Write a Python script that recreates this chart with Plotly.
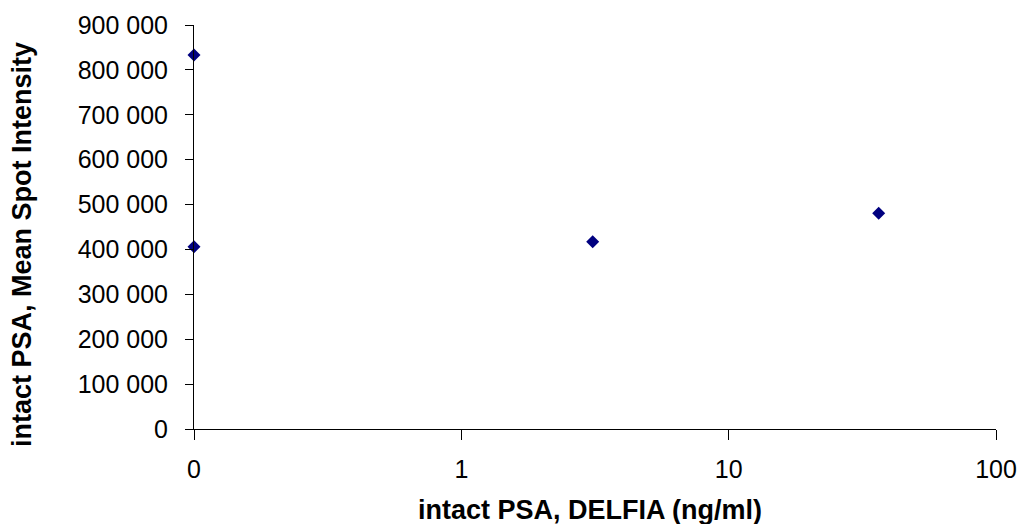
import plotly.graph_objects as go

# Data
x_delfia = [0.1, 0.1, 3.1, 36.4]          # intact PSA, DELFIA (ng/ml); 0 shown at axis minimum
y_intensity = [833000, 406000, 417000, 480500]

x_tickvals = [0.1, 1, 10, 100]
x_ticktext = ["0", "1", "10", "100"]
y_tickvals = [0, 100000, 200000, 300000, 400000, 500000, 600000, 700000, 800000, 900000]

x_title = "<b>intact PSA, DELFIA (ng/ml)</b>"
y_title = "<b>intact PSA, Mean Spot Intensity</b>"

fig = go.Figure()
fig.add_trace(go.Scatter(
    x=x_delfia, y=y_intensity, mode="markers",
    marker=dict(symbol="diamond", size=10, color="#000080", line=dict(width=0)),
    cliponaxis=False, showlegend=False,
))

font_family = "Liberation Sans, Arial, sans-serif"
fig.update_layout(
    width=1021, height=524,
    margin=dict(l=194, r=25, t=25, b=95, autoexpand=False),
    paper_bgcolor="white", plot_bgcolor="white",
    separators=", ",
    font=dict(family=font_family, color="black", size=25),
    xaxis=dict(
        type="log", range=[-1, 2], automargin=False,
        tickvals=x_tickvals, ticktext=x_ticktext,
        showgrid=False, zeroline=False,
        showline=True, linecolor="black", linewidth=1,
        ticks="outside", ticklen=10, tickcolor="black",
        tickfont=dict(size=25), ticklabelstandoff=8,
    ),
    yaxis=dict(
        range=[0, 900000], tickvals=y_tickvals, tickformat=",d", automargin=False,
        showgrid=False, zeroline=False,
        showline=True, linecolor="black", linewidth=1,
        ticks="outside", ticklen=8, tickcolor="black",
        tickfont=dict(size=25), ticklabelstandoff=12,
    ),
    annotations=[
        dict(text=x_title, xref="paper", yref="paper", x=0.5, y=0,
             xanchor="center", yanchor="top", xshift=-5, yshift=-64, showarrow=False,
             font=dict(size=27)),
        dict(text=y_title, xref="paper", yref="paper", x=0, y=0.5,
             xanchor="center", yanchor="middle", xshift=-172, yshift=-18,
             textangle=-90, showarrow=False, font=dict(size=27)),
    ],
)

fig.write_html(
    "out.html",
    config={"displayModeBar": False},
    post_script="document.body.style.margin='0';document.body.style.overflow='hidden';",
)
